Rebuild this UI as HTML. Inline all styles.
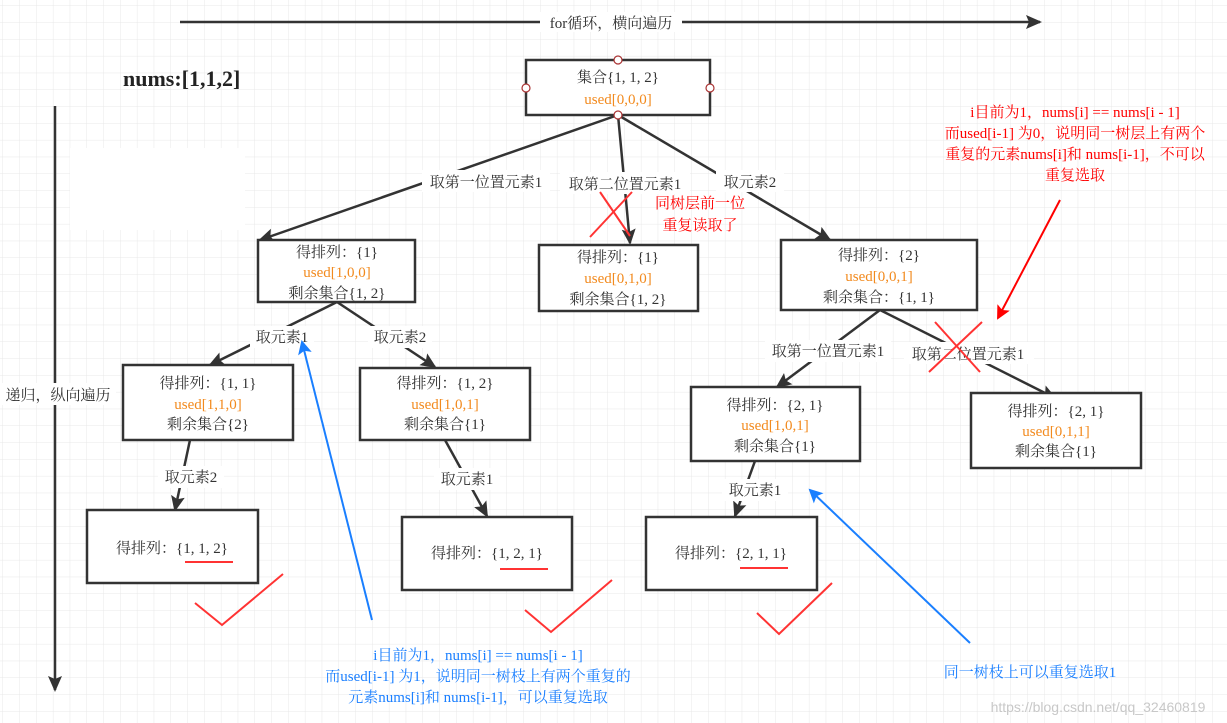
<!DOCTYPE html>
<html><head><meta charset="utf-8"><style>
html,body{margin:0;padding:0;background:#fff}
svg{display:block}
text{font-family:"Liberation Serif","Noto Serif CJK SC",serif;font-size:15px;fill:#333}
.c{text-anchor:middle}
.o{fill:#f28a1e}
.r{fill:#f00}
.b{fill:#1a7fff}
.box{fill:#fff;stroke:#333;stroke-width:2.5}
.ln{stroke:#333;stroke-width:2.5;fill:none}
.lb{fill:#fff}
</style></head><body>
<svg width="1227" height="723" viewBox="0 0 1227 723" xmlns="http://www.w3.org/2000/svg">
<defs>
<pattern id="g" width="16.8" height="16.8" patternUnits="userSpaceOnUse" x="3" y="6">
<path d="M16.8 0V16.8M0 16.8H16.8" stroke="#e8e8e8" stroke-width="1" fill="none"/>
</pattern>
<marker id="a" markerWidth="10" markerHeight="10" refX="8" refY="5" orient="auto" markerUnits="userSpaceOnUse" viewBox="0 0 10 10"><path d="M0,0 L10,5 L0,10 L2,5z" fill="#333"/></marker>
<marker id="ar" markerWidth="14" markerHeight="14" refX="12" refY="7" orient="auto" markerUnits="userSpaceOnUse" viewBox="0 0 14 14"><path d="M0,0 L14,7 L0,14 L3,7z" fill="#f00"/></marker>
<marker id="ab" markerWidth="14" markerHeight="14" refX="12" refY="7" orient="auto" markerUnits="userSpaceOnUse" viewBox="0 0 14 14"><path d="M0,0 L14,7 L0,14 L3,7z" fill="#1a7fff"/></marker>
<marker id="ak" markerWidth="16" markerHeight="16" refX="14" refY="8" orient="auto" markerUnits="userSpaceOnUse" viewBox="0 0 16 16"><path d="M0,1 L16,8 L0,15 L3,8z" fill="#333"/></marker>
</defs>
<rect width="1227" height="723" fill="url(#g)"/>
<rect x="70" y="148" width="175" height="82" fill="#fff"/>

<!-- top arrow -->
<line x1="180" y1="22" x2="1040" y2="22" class="ln" marker-end="url(#ak)"/>
<rect x="540" y="12" width="142" height="20" class="lb"/>
<text x="611" y="28" class="c">for循环，横向遍历</text>
<text x="123" y="86" style="font-size:22px;font-weight:bold;fill:#222">nums:[1,1,2]</text>

<!-- vertical arrow -->
<line x1="55" y1="106" x2="55" y2="690" class="ln" marker-end="url(#ak)"/>
<rect x="0" y="383" width="116" height="22" class="lb"/>
<text x="58" y="400" class="c">递归，纵向遍历</text>

<!-- root edges -->
<line x1="618" y1="115" x2="260" y2="240" class="ln" marker-end="url(#ak)"/>
<line x1="618" y1="115" x2="630" y2="243" class="ln" marker-end="url(#ak)"/>
<line x1="618" y1="115" x2="830" y2="240" class="ln" marker-end="url(#ak)"/>
<rect x="422" y="170" width="128" height="22" class="lb"/>
<text x="486" y="187" class="c">取第一位置元素1</text>
<rect x="560" y="172" width="130" height="22" class="lb"/>
<text x="625" y="189" class="c">取第二位置元素1</text>
<rect x="716" y="170" width="68" height="22" class="lb"/>
<text x="750" y="187" class="c">取元素2</text>
<line x1="600" y1="192" x2="630" y2="236" stroke="#f33" stroke-width="2"/>
<line x1="590" y1="237" x2="632" y2="192" stroke="#f33" stroke-width="2"/>
<text x="700" y="208" class="c r">同树层前一位</text>
<text x="700" y="230" class="c r">重复读取了</text>

<!-- root -->
<rect x="526" y="60" width="184" height="55" class="box"/>
<text x="618" y="82" class="c">集合{1, 1, 2}</text>
<text x="618" y="104" class="c o">used[0,0,0]</text>
<g fill="#fff" stroke="#a33" stroke-width="1.2">
<circle cx="618" cy="60" r="4"/><circle cx="526" cy="88" r="4"/><circle cx="710" cy="88" r="4"/><circle cx="618" cy="115" r="4"/>
</g>

<!-- red annotation -->
<text x="1075" y="117" class="c r">i目前为1，nums[i] == nums[i - 1]</text>
<text x="1075" y="138" class="c r">而used[i-1] 为0，说明同一树层上有两个</text>
<text x="1075" y="159" class="c r">重复的元素nums[i]和 nums[i-1]，不可以</text>
<text x="1075" y="180" class="c r">重复选取</text>
<line x1="1060" y1="200" x2="998" y2="318" stroke="#f00" stroke-width="2" marker-end="url(#ar)"/>

<!-- level 1 boxes -->
<rect x="258" y="240" width="157" height="62" class="box"/>
<text x="337" y="257" class="c">得排列：{1}</text>
<text x="337" y="277" class="c o">used[1,0,0]</text>
<text x="337" y="298" class="c">剩余集合{1, 2}</text>

<rect x="539" y="245" width="159" height="66" class="box"/>
<text x="618" y="262" class="c">得排列：{1}</text>
<text x="618" y="283" class="c o">used[0,1,0]</text>
<text x="618" y="304" class="c">剩余集合{1, 2}</text>

<rect x="781" y="240" width="196" height="70" class="box"/>
<text x="879" y="260" class="c">得排列：{2}</text>
<text x="879" y="281" class="c o">used[0,0,1]</text>
<text x="879" y="302" class="c">剩余集合：{1, 1}</text>

<!-- A edges -->
<line x1="337" y1="302" x2="210" y2="365" class="ln" marker-end="url(#ak)"/>
<line x1="337" y1="302" x2="435" y2="367" class="ln" marker-end="url(#ak)"/>
<rect x="250" y="326" width="64" height="22" class="lb"/>
<text x="282" y="342" class="c">取元素1</text>
<rect x="368" y="326" width="64" height="22" class="lb"/>
<text x="400" y="342" class="c">取元素2</text>

<!-- C edges -->
<line x1="880" y1="310" x2="777" y2="387" class="ln" marker-end="url(#ak)"/>
<line x1="880" y1="310" x2="1055" y2="398" class="ln" marker-end="url(#ak)"/>
<rect x="765" y="340" width="126" height="22" class="lb"/>
<text x="828" y="356" class="c">取第一位置元素1</text>
<rect x="904" y="342" width="130" height="22" class="lb"/>
<text x="968" y="359" class="c">取第二位置元素1</text>
<line x1="935" y1="322" x2="980" y2="372" stroke="#f33" stroke-width="2"/>
<line x1="929" y1="372" x2="982" y2="322" stroke="#f33" stroke-width="2"/>

<!-- level 2 -->
<rect x="123" y="365" width="170" height="75" class="box"/>
<text x="208" y="388" class="c">得排列：{1, 1}</text>
<text x="208" y="409" class="c o">used[1,1,0]</text>
<text x="208" y="429" class="c">剩余集合{2}</text>

<rect x="360" y="368" width="170" height="72" class="box"/>
<text x="445" y="388" class="c">得排列：{1, 2}</text>
<text x="445" y="409" class="c o">used[1,0,1]</text>
<text x="445" y="429" class="c">剩余集合{1}</text>

<rect x="691" y="387" width="169" height="74" class="box"/>
<text x="775" y="410" class="c">得排列：{2, 1}</text>
<text x="775" y="430" class="c o">used[1,0,1]</text>
<text x="775" y="451" class="c">剩余集合{1}</text>

<rect x="971" y="393" width="170" height="75" class="box"/>
<text x="1056" y="416" class="c">得排列：{2, 1}</text>
<text x="1056" y="436" class="c o">used[0,1,1]</text>
<text x="1056" y="456" class="c">剩余集合{1}</text>

<!-- level 3 edges -->
<line x1="190" y1="440" x2="175" y2="510" class="ln" marker-end="url(#ak)"/>
<rect x="158" y="466" width="66" height="22" class="lb"/>
<text x="191" y="482" class="c">取元素2</text>
<line x1="445" y1="440" x2="487" y2="516" class="ln" marker-end="url(#ak)"/>
<rect x="434" y="468" width="66" height="22" class="lb"/>
<text x="467" y="484" class="c">取元素1</text>
<line x1="755" y1="461" x2="735" y2="516" class="ln" marker-end="url(#ak)"/>
<rect x="722" y="479" width="66" height="22" class="lb"/>
<text x="755" y="495" class="c">取元素1</text>

<!-- leaves -->
<rect x="87" y="510" width="171" height="73" class="box"/>
<text x="172" y="553" class="c">得排列：{1, 1, 2}</text>
<line x1="185" y1="562" x2="233" y2="562" stroke="#f33" stroke-width="2"/>

<rect x="402" y="517" width="170" height="73" class="box"/>
<text x="487" y="558" class="c">得排列：{1, 2, 1}</text>
<line x1="500" y1="569" x2="548" y2="569" stroke="#f33" stroke-width="2"/>

<rect x="646" y="517" width="171" height="73" class="box"/>
<text x="731" y="558" class="c">得排列：{2, 1, 1}</text>
<line x1="740" y1="568" x2="788" y2="568" stroke="#f33" stroke-width="2"/>

<!-- checks -->
<g fill="none" stroke="#f33" stroke-width="2">
<polyline points="195,603 222,625 283,574"/>
<polyline points="525,610 551,632 612,580"/>
<polyline points="757,613 779,634 832,583"/>
</g>

<!-- blue -->
<line x1="372" y1="620" x2="302" y2="342" stroke="#1a7fff" stroke-width="2" marker-end="url(#ab)"/>
<line x1="970" y1="643" x2="810" y2="490" stroke="#1a7fff" stroke-width="2" marker-end="url(#ab)"/>
<text x="478" y="660" class="c b">i目前为1，nums[i] == nums[i - 1]</text>
<text x="478" y="681" class="c b">而used[i-1] 为1，说明同一树枝上有两个重复的</text>
<text x="478" y="702" class="c b">元素nums[i]和 nums[i-1]，可以重复选取</text>
<text x="1030" y="677" class="c b">同一树枝上可以重复选取1</text>
<text x="1098" y="712" class="c" style="fill:#c8c8c8;font-family:'Liberation Sans',sans-serif;font-size:14px">https://blog.csdn.net/qq_32460819</text>
</svg>
</body></html>
